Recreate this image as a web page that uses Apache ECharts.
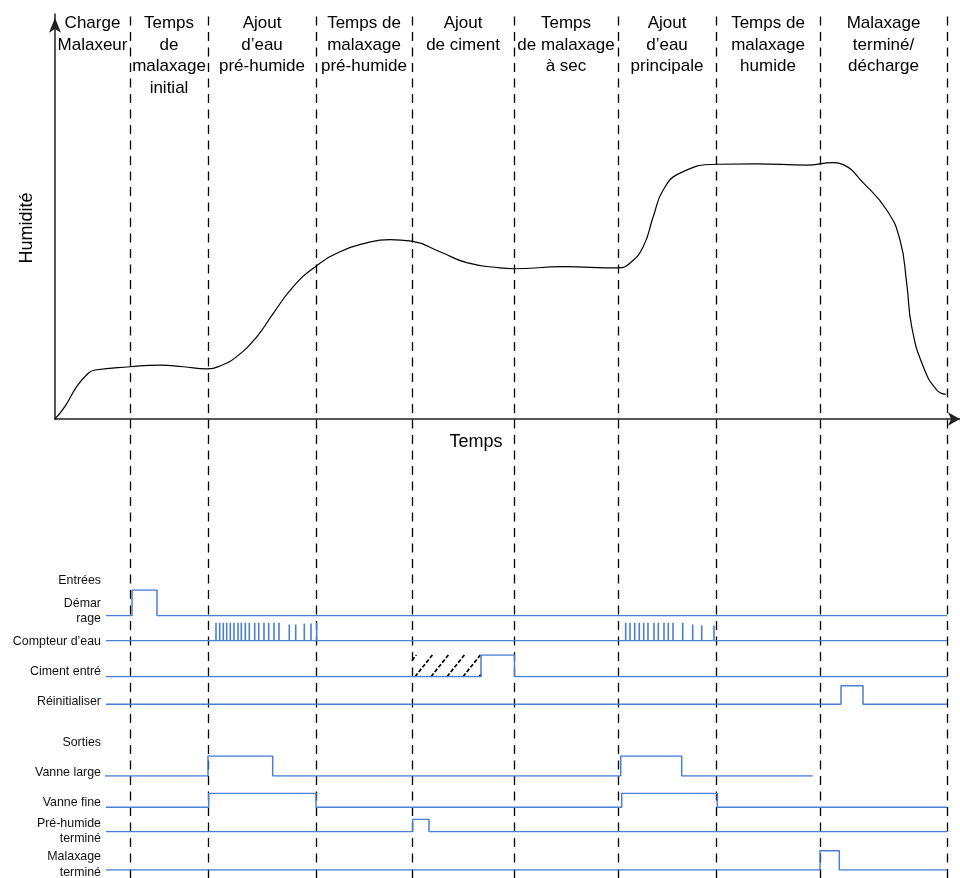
<!DOCTYPE html>
<html>
<head>
<meta charset="utf-8">
<script src="https://cdn.jsdelivr.net/npm/echarts@6/dist/echarts.min.js"></script>
<style>
  html, body { margin: 0; padding: 0; background: #fff; }
  #main { width: 960px; height: 878px; }
</style>
</head>
<body>
<div id="main"></div>
<script>
// phase boundaries on the time axis (time 0 = origin of the humidity plot)
var phaseBounds = [0, 75, 153, 261, 357, 459, 563, 661, 765, 892];
var phaseLabels = [
  'Charge\nMalaxeur',
  'Temps\nde\nmalaxage\ninitial',
  'Ajout\nd’eau\npré-humide',
  'Temps de\nmalaxage\npré-humide',
  'Ajout\nde ciment',
  'Temps\nde malaxage\nà sec',
  'Ajout\nd’eau\nprincipale',
  'Temps de\nmalaxage\nhumide',
  'Malaxage\nterminé/\ndécharge'
];

// humidity curve
var humTime = [0, 10, 21.7, 33.3, 40, 75, 105, 128.3, 151.7, 165, 181.7, 201.7, 218.3, 238.3, 260.3, 285, 311.7, 335, 356.7, 385, 411.7, 445, 458.3, 508.3, 563.3, 575, 588.3, 598.3, 608.3, 625, 661.7, 701.7, 751.7, 778.3, 788.3, 808.3, 831.7, 845, 851.7, 856.7, 868.3, 881.7, 891];
var humValue = [0, 3.1, 8.0, 11.3, 12.1, 12.9, 13.3, 12.9, 12.4, 13.1, 15.4, 20.3, 26.1, 32.7, 37.6, 41.3, 43.5, 44.3, 43.9, 41.3, 38.6, 37.3, 37.1, 37.6, 37.3, 38.5, 42.6, 50.0, 56.6, 60.7, 62.9, 63.0, 62.7, 63.3, 62.8, 58.3, 51.6, 44.2, 33.5, 22.8, 12.9, 7.2, 6.1];

// digital signals: [time, level] steps
var sigDemarrage = [[51, 0], [77, 1], [102, 0], [892, 0]];
var sigCompteur = [[51, 0], [892, 0]];
var pulseTime1 = [161, 164.7, 168.3, 171.7, 175.3, 179, 183, 186.3, 190.3, 194.3, 199.7, 203.7, 209, 213.7, 219, 224, 234.3, 240.7, 249.3, 256, 261.7];
var pulseLevel1 = [1, 1, 1, 1, 1, 1, 1, 1, 1, 1, 1, 1, 1, 1, 1, 1, 0.9, 0.9, 0.95, 0.95, 1];
var pulseTime2 = [570.7, 575, 579.7, 584.3, 588.7, 593, 599, 603.3, 609, 613.3, 618, 627.7, 637.7, 646.7, 659];
var pulseLevel2 = [1, 1, 1, 1, 1, 1, 1, 1, 1, 1, 1, 1, 0.9, 0.85, 0.85];
var sigCiment = [[51, 0], [426, 1], [459.5, 0], [892, 0]];
var cimentHatch = [[357, 426]];
var sigReinit = [[51, 0], [786, 1], [808, 0], [892, 0]];
var sigVanneLarge = [[50, 0], [153, 1], [217.7, 0], [565.7, 1], [626.7, 0], [757.7, 0]];
var sigVanneFine = [[51, 0], [153.7, 1], [261, 0], [566.7, 1], [662.3, 0], [892, 0]];
var sigPreHumide = [[51, 0], [357.7, 1], [374, 0], [892, 0]];
var sigMalaxage = [[51, 0], [765, 1], [784.3, 0], [892, 0]];

// left labels
var signalLabels = [
  ['Entrées', 581],
  ['Démar', 604], ['rage', 619],
  ['Compteur d’eau', 642],
  ['Ciment entré', 672],
  ['Réinitialiser', 702],
  ['Sorties', 743],
  ['Vanne large', 773],
  ['Vanne fine', 803],
  ['Pré-humide', 824], ['terminé', 839],
  ['Malaxage', 857], ['terminé', 873]
];

var FONT = 'Liberation Sans, Arial, sans-serif';
var BLUE = '#4a7fd6';
var X_MAX = 905;

// lane geometry: [top(high level), bottom(low level)] in pixels
var lanes = [
  [590, 615.7], [622.7, 640.7], [655, 676.7], [685.7, 704.3],
  [756, 776], [793.3, 807.3], [819.3, 831.7], [850.7, 870]
];
var laneSignals = [sigDemarrage, sigCompteur, sigCiment, sigReinit, sigVanneLarge, sigVanneFine, sigPreHumide, sigMalaxage];

var myChart = echarts.init(document.getElementById('main'));

var grids = [
  { left: 55, top: 13, width: X_MAX, bottom: 0 },   // dashed phase lines
  { left: 55, top: 14, width: X_MAX, height: 405 }  // humidity
];
var xAxes = [
  { gridIndex: 0, type: 'value', min: 0, max: X_MAX, show: false },
  {
    gridIndex: 1, type: 'value', min: 0, max: X_MAX,
    axisLine: { show: true, symbol: ['none', 'arrow'], symbolSize: [10, 12], lineStyle: { color: '#222', width: 1.5 } },
    axisTick: { show: false }, axisLabel: { show: false }, splitLine: { show: false }
  }
];
var yAxes = [
  { gridIndex: 0, type: 'value', min: 0, max: 1, show: false },
  {
    gridIndex: 1, type: 'value', min: 0, max: 100,
    axisLine: { show: true, symbol: ['none', 'arrow'], symbolSize: [9, 15], symbolOffset: [0, -3.75], lineStyle: { color: '#222', width: 1.5 } },
    axisTick: { show: false }, axisLabel: { show: false }, splitLine: { show: false }
  }
];

var markAreas = [];
for (var i = 0; i < phaseLabels.length; i++) {
  markAreas.push([{ xAxis: phaseBounds[i], name: phaseLabels[i] }, { xAxis: phaseBounds[i + 1] }]);
}
var markLines = [];
for (var j = 1; j < phaseBounds.length; j++) {
  markLines.push({ xAxis: phaseBounds[j] });
}

var series = [
  {
    type: 'line', xAxisIndex: 0, yAxisIndex: 0, data: [], silent: true,
    markLine: {
      silent: true, symbol: 'none', label: { show: false },
      lineStyle: { color: '#000', width: 1.3, type: [9, 6.5] },
      data: markLines
    },
    markArea: {
      silent: true,
      itemStyle: { color: 'rgba(0,0,0,0)' },
      label: {
        position: 'insideTop', distance: 0, color: '#000',
        fontFamily: FONT, fontSize: 17, lineHeight: 21.5, align: 'center'
      },
      data: markAreas
    }
  },
  {
    type: 'line', xAxisIndex: 1, yAxisIndex: 1, smooth: 0.5, symbol: 'none',
    lineStyle: { color: '#000', width: 1.2 },
    data: humTime.map(function (t, k) { return [t, humValue[k]]; })
  }
];

lanes.forEach(function (lane, k) {
  var gi = grids.length;
  grids.push({ left: 55, width: X_MAX, top: lane[0], height: lane[1] - lane[0] });
  xAxes.push({ gridIndex: gi, type: 'value', min: 0, max: X_MAX, show: false });
  yAxes.push({ gridIndex: gi, type: 'value', min: 0, max: 1, show: false });
  series.push({
    type: 'line', xAxisIndex: gi, yAxisIndex: gi, step: 'end', symbol: 'none',
    lineStyle: { color: BLUE, width: 1.5 }, z: 5,
    data: laneSignals[k]
  });
  if (k === 1) {
    series.push({
      type: 'bar', xAxisIndex: gi, yAxisIndex: gi, barWidth: 1.6, z: 5,
      itemStyle: { color: BLUE },
      data: pulseTime1.map(function (t, m) { return [t, pulseLevel1[m]]; })
        .concat(pulseTime2.map(function (t, m) { return [t, pulseLevel2[m]]; }))
    });
  }
  if (k === 2) {
    series.push({
      type: 'custom', xAxisIndex: gi, yAxisIndex: gi, z: 4,
      data: cimentHatch,
      renderItem: function (params, api) {
        var p0 = api.coord([api.value(0), 0]);
        var p1 = api.coord([api.value(1), 1]);
        var x0 = p0[0], x1 = p1[0], yb = p0[1], yt = p1[1];
        var h = yb - yt;
        var dx = h * 0.8;
        var children = [];
        for (var b = x0 - 13; b < x1; b += 16) {
          var sx = Math.max(b, x0);
          var ex = Math.min(b + dx, x1);
          if (ex <= sx) continue;
          children.push({
            type: 'line',
            shape: { x1: sx, y1: yb - (sx - b) / dx * h, x2: ex, y2: yb - (ex - b) / dx * h },
            style: { stroke: '#000', lineWidth: 1.7, lineDash: [4, 2] }
          });
        }
        return { type: 'group', children: children };
      }
    });
  }
});

var graphics = signalLabels.map(function (l) {
  return {
    type: 'text', x: 101, y: l[1],
    style: { text: l[0], fill: '#111', font: '12.4px ' + FONT, textAlign: 'right', textVerticalAlign: 'middle' }
  };
});
graphics.push({
  type: 'text', x: 27, y: 228, rotation: Math.PI / 2,
  style: { text: 'Humidité', fill: '#000', font: '18px ' + FONT, textAlign: 'center', textVerticalAlign: 'middle' }
});
graphics.push({
  type: 'text', x: 476, y: 442,
  style: { text: 'Temps', fill: '#000', font: '18px ' + FONT, textAlign: 'center', textVerticalAlign: 'middle' }
});

var option = {
  animation: false,
  backgroundColor: '#fff',
  grid: grids,
  xAxis: xAxes,
  yAxis: yAxes,
  series: series,
  graphic: graphics
};
myChart.setOption(option);
</script>
</body>
</html>
